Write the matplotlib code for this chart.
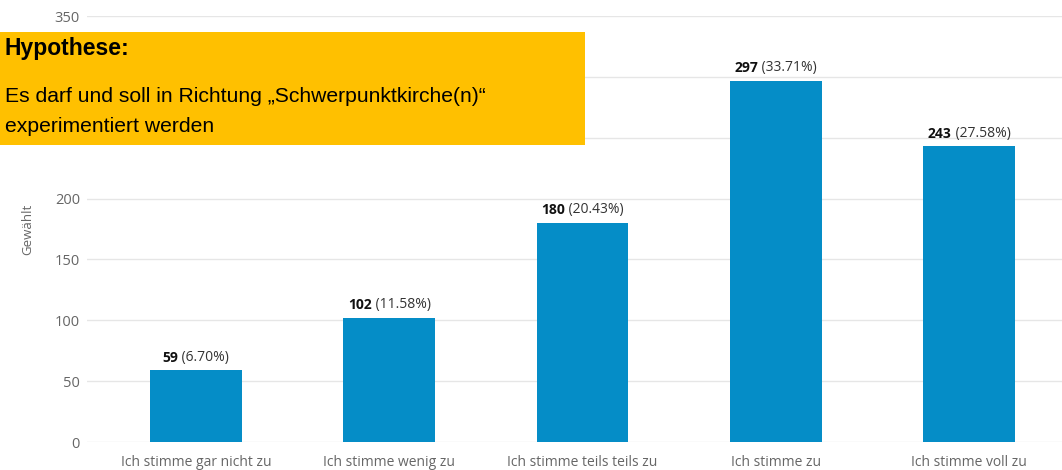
import matplotlib
matplotlib.use("Agg")
import matplotlib.pyplot as plt
from matplotlib.patches import Rectangle

categories = ["Ich stimme gar nicht zu", "Ich stimme wenig zu", "Ich stimme teils teils zu",
              "Ich stimme zu", "Ich stimme voll zu"]
votes = [59, 102, 180, 297, 243]
percents = ["6.70%", "11.58%", "20.43%", "33.71%", "27.58%"]
yticks = [0, 50, 100, 150, 200, 250, 300, 350]

dpi = 100
fig = plt.figure(figsize=(10.62, 4.70), dpi=dpi)
ax = fig.add_axes([87 / 1062, 28 / 470, 1 - 87 / 1062, 426 / 470])

x = list(range(len(categories)))
ax.bar(x, votes, width=0.475, color="#058DC7", zorder=2)
ax.set_xlim(-0.563, 4.48)
ax.set_ylim(0, 350)
ax.set_yticks(yticks)
ax.grid(axis="y", color="#e6e6e6", linewidth=1, zorder=0)
for s in ax.spines.values():
    s.set_visible(False)
ax.tick_params(length=0)
ax.tick_params(axis="y", pad=5, labelcolor="#666666", labelsize=10.5)
ax.tick_params(axis="x", pad=9, labelcolor="#666666", labelsize=10)
ax.set_xticks(x)
ax.set_xticklabels(categories, fontfamily="Open Sans")
for lab in ax.get_yticklabels():
    lab.set_fontfamily("Open Sans")
ax.set_ylabel("Gewählt", color="#666666", fontsize=9.5, fontfamily="Open Sans", labelpad=15)

# data labels: bold count + grey percentage, centred together
fig.canvas.draw()
renderer = fig.canvas.get_renderer()
for xi, v, p in zip(x, votes, percents):
    t1 = ax.annotate(str(v), (xi, v), xytext=(0, 4), textcoords="offset points",
                     ha="left", va="bottom", fontsize=10, fontweight="bold",
                     fontfamily="Open Sans", color="#111111")
    t2 = ax.annotate(" (" + p + ")", (xi, v), xytext=(0, 4), textcoords="offset points",
                     ha="left", va="bottom", fontsize=10,
                     fontfamily="Open Sans", color="#333333")
    w1 = t1.get_window_extent(renderer).width
    w2 = t2.get_window_extent(renderer).width
    start = -(w1 + w2) / 2 * 72 / dpi
    t1.set_position((start, 4))
    t2.set_position((start + w1 * 72 / dpi, 4))

# yellow hypothesis box
fig.patches.append(Rectangle((0, 1 - 145 / 470), 585 / 1062, 113 / 470,
                             transform=fig.transFigure, facecolor="#FFC000",
                             edgecolor="none", zorder=5))
fig.text(5 / 1062, 1 - 49 / 470, "Hypothese:", fontsize=16.5, fontweight="bold",
         fontfamily="Liberation Sans", va="center", ha="left", zorder=6)
fig.text(5 / 1062, 1 - 96 / 470, "Es darf und soll in Richtung „Schwerpunktkirche(n)“",
         fontsize=15.2, fontfamily="Liberation Sans", va="center", ha="left", zorder=6)
fig.text(5 / 1062, 1 - 126 / 470, "experimentiert werden",
         fontsize=15.2, fontfamily="Liberation Sans", va="center", ha="left", zorder=6)

fig.savefig("out.png", dpi=dpi)
